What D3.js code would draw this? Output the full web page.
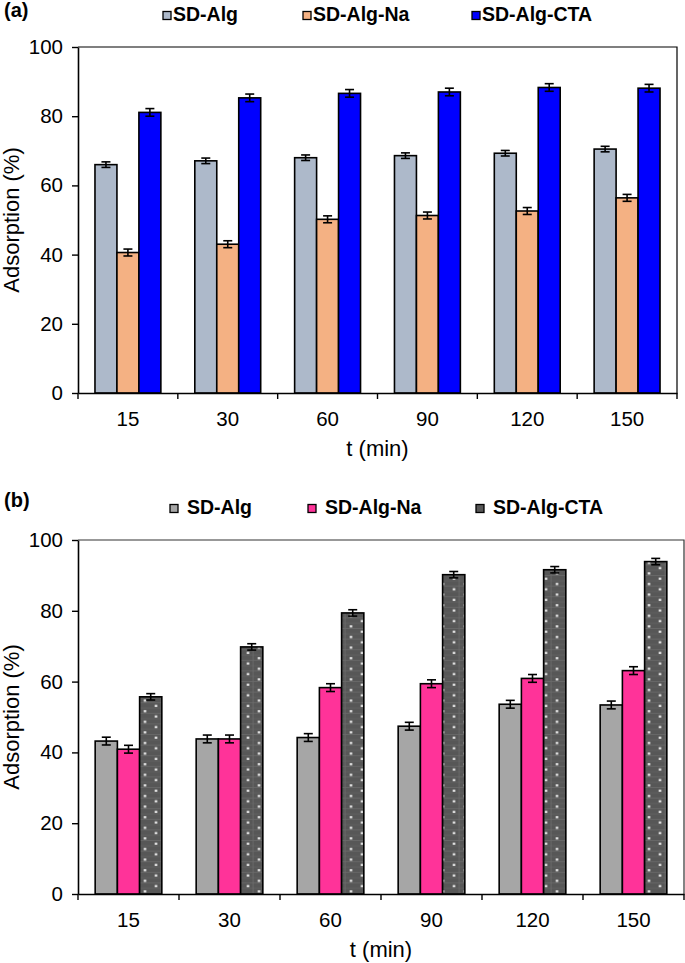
<!DOCTYPE html>
<html>
<head>
<meta charset="utf-8">
<script src="https://cdn.jsdelivr.net/npm/d3@7/dist/d3.min.js"></script>
<style>
  html, body { margin: 0; padding: 0; background: #fff; }
  svg text { font-family: "Liberation Sans", Arial, sans-serif; fill: #000; }
</style>
</head>
<body>
<svg id="chart" width="685" height="963"></svg>
<script>
// ---------- data ----------
const categories = ["15", "30", "60", "90", "120", "150"];
const seriesNames = ["SD-Alg", "SD-Alg-Na", "SD-Alg-CTA"];
const yTicks = [0, 20, 40, 60, 80, 100];

// panel (a)
const aAlg    = [66.0, 67.1, 68.0, 68.6, 69.3, 70.5];
const aAlgNa  = [40.6, 43.0, 50.2, 51.3, 52.6, 56.4];
const aAlgCTA = [81.1, 85.3, 86.6, 87.0, 88.3, 88.1];
const aErr    = [[0.8, 0.8, 0.8, 0.8, 0.8, 0.8], [1.0, 1.0, 1.0, 1.0, 1.0, 1.0], [1.1, 1.1, 1.1, 1.1, 1.1, 1.1]];

// panel (b)
const bAlg    = [43.2, 43.8, 44.2, 47.4, 53.6, 53.4];
const bAlgNa  = [40.9, 43.8, 58.3, 59.4, 60.9, 63.1];
const bAlgCTA = [55.7, 69.8, 79.4, 90.2, 91.6, 93.9];
const bErr    = [[1.1, 1.1, 1.1, 1.1, 1.1, 1.1], [1.1, 1.1, 1.1, 1.1, 1.1, 1.1], [0.9, 0.9, 0.9, 0.9, 0.9, 0.9]];

const svg = d3.select("#chart");
const defs = svg.append("defs");

// dotted pattern (one per anchor x so every bar gets the same phase)
function makeDots(id, x0, y0) {
  const w = 22, h = 10.6;
  const pat = defs.append("pattern").attr("id", id).attr("patternUnits", "userSpaceOnUse")
    .attr("x", x0).attr("y", y0).attr("width", w).attr("height", h);
  pat.append("rect").attr("width", w).attr("height", h).attr("fill", "#575757");
  pat.append("line").attr("x1", 0).attr("x2", w).attr("y1", 10.2).attr("y2", 10.2).attr("stroke", "#6c6c6c").attr("stroke-width", 0.8);
  pat.append("line").attr("x1", 0).attr("x2", w).attr("y1", 4.9).attr("y2", 4.9).attr("stroke", "#666").attr("stroke-width", 0.6);
  pat.append("line").attr("x1", 9.5).attr("x2", 9.5).attr("y1", 0).attr("y2", h).attr("stroke", "#6c6c6c").attr("stroke-width", 0.8);
  pat.append("rect").attr("x", 3.3).attr("y", 1.6).attr("width", 2.2).attr("height", 2.2).attr("fill", "#fff");
  pat.append("rect").attr("x", 14.3).attr("y", 6.9).attr("width", 2.2).attr("height", 2.2).attr("fill", "#fff");
  return `url(#${id})`;
}

function panel(cfg) {
  const g = svg.append("g");
  const x0 = d3.scaleBand().domain(categories).range([cfg.left, cfg.right]).padding(0);
  const bw = x0.bandwidth();
  const x1 = d3.scaleBand().domain(seriesNames).range([bw * 0.17, bw * 0.83]).padding(0);
  const y = d3.scaleLinear().domain([0, 100]).range([cfg.bottom, cfg.top]);

  // plot border (top + right)
  g.append("path")
    .attr("d", `M${cfg.left},${cfg.top}H${cfg.right}V${cfg.bottom}`)
    .attr("fill", "none").attr("stroke", cfg.borderColor).attr("stroke-width", 1.2);

  const data = categories.map((c, i) => ({
    cat: c, i,
    vals: seriesNames.map((s, k) => ({ s, k, i, v: cfg.series[k][i], e: cfg.err[k][i] }))
  }));

  const grp = g.selectAll("g.grp").data(data).join("g")
    .attr("transform", d => `translate(${x0(d.cat)},0)`);

  grp.selectAll("rect").data(d => d.vals).join("rect")
    .attr("x", d => x1(d.s))
    .attr("width", x1.bandwidth())
    .attr("y", d => y(d.v))
    .attr("height", d => y(0) - y(d.v))
    .attr("fill", d => {
      if (cfg.dotted && d.k === 2) {
        return makeDots(`dots${d.i}`, x0(categories[d.i]) + x1(d.s), y(0));
      }
      return cfg.colors[d.k];
    })
    .attr("stroke", "#000").attr("stroke-width", 1.6);

  // error bars
  const eb = grp.selectAll("g.eb").data(d => d.vals).join("g")
    .attr("transform", d => `translate(${x1(d.s) + x1.bandwidth() / 2},0)`)
    .attr("stroke", "#000").attr("stroke-width", 1.6);
  eb.append("line").attr("x1", 0).attr("x2", 0).attr("y1", d => y(d.v + d.e)).attr("y2", d => y(d.v - d.e));
  eb.append("line").attr("x1", -4.5).attr("x2", 4.5).attr("y1", d => y(d.v + d.e)).attr("y2", d => y(d.v + d.e));
  eb.append("line").attr("x1", -4.5).attr("x2", 4.5).attr("y1", d => y(d.v - d.e)).attr("y2", d => y(d.v - d.e));

  // y axis
  const ya = g.append("g").attr("transform", `translate(${cfg.left},0)`)
    .call(d3.axisLeft(y).tickValues(yTicks).tickSize(6).tickSizeOuter(0).tickPadding(9));
  ya.select(".domain").attr("stroke", "#000").attr("stroke-width", 1.6);
  ya.selectAll(".tick line").attr("stroke", "#000").attr("stroke-width", 1.4);
  ya.selectAll(".tick text").attr("font-size", 20.5).attr("font-family", "Liberation Sans, Arial, sans-serif").attr("fill", "#000");

  // x axis: labels at centres, ticks at boundaries
  const xa = g.append("g").attr("transform", `translate(0,${cfg.bottom})`)
    .call(d3.axisBottom(x0).tickSize(0).tickSizeOuter(0).tickPadding(18));
  xa.select(".domain").attr("stroke", "#000").attr("stroke-width", 1.6);
  xa.selectAll(".tick text").attr("font-size", 20.5).attr("font-family", "Liberation Sans, Arial, sans-serif").attr("fill", "#000");
  const bounds = d3.range(categories.length + 1).map(i => cfg.left + i * x0.step());
  g.selectAll("line.xt").data(bounds).join("line")
    .attr("x1", d => d).attr("x2", d => d)
    .attr("y1", cfg.bottom).attr("y2", cfg.bottom + 6)
    .attr("stroke", "#000").attr("stroke-width", 1.4);

  // axis titles
  g.append("text").attr("x", (cfg.left + cfg.right) / 2).attr("y", cfg.bottom + 63)
    .attr("text-anchor", "middle").attr("font-size", 22).text("t (min)");
  g.append("text")
    .attr("transform", `translate(${19},${(cfg.top + cfg.bottom) / 2}) rotate(-90)`)
    .attr("text-anchor", "middle").attr("font-size", 22).text("Adsorption (%)");

  // panel letter
  g.append("text").attr("x", 4).attr("y", cfg.letterY).attr("font-size", 20).attr("font-weight", "bold").text(cfg.letter);

  // legend
  const lg = g.selectAll("g.lg").data(seriesNames).join("g")
    .attr("transform", (d, i) => `translate(${cfg.legX[i]},${cfg.legY})`);
  lg.append("rect").attr("x", 0).attr("y", -9.5).attr("width", 8).attr("height", 8)
    .attr("fill", (d, i) => cfg.legColors[i]).attr("stroke", "#000").attr("stroke-width", 1.3);
  lg.append("text").attr("x", cfg.legGap).attr("y", 0).attr("font-size", 19.5).attr("font-weight", "bold")
    .text(d => d);
}

panel({
  left: 78, right: 677, top: 47, bottom: 393,
  series: [aAlg, aAlgNa, aAlgCTA], err: aErr,
  colors: ["#adb9ca", "#f4b183", "#0000ff"],
  legColors: ["#adb9ca", "#f4b183", "#0000ff"],
  dotted: false,
  borderColor: "#000",
  letter: "(a)", letterY: 17,
  legX: [163, 303, 472], legY: 21, legGap: 10
});

panel({
  left: 78, right: 684, top: 540, bottom: 894,
  series: [bAlg, bAlgNa, bAlgCTA], err: bErr,
  colors: ["#a6a6a6", "#ff3399", "#575757"],
  legColors: ["#a6a6a6", "#ff3399", "#575757"],
  dotted: true,
  borderColor: "#333",
  letter: "(b)", letterY: 507,
  legX: [170, 308, 476], legY: 514, legGap: 17
});
</script>
</body>
</html>
